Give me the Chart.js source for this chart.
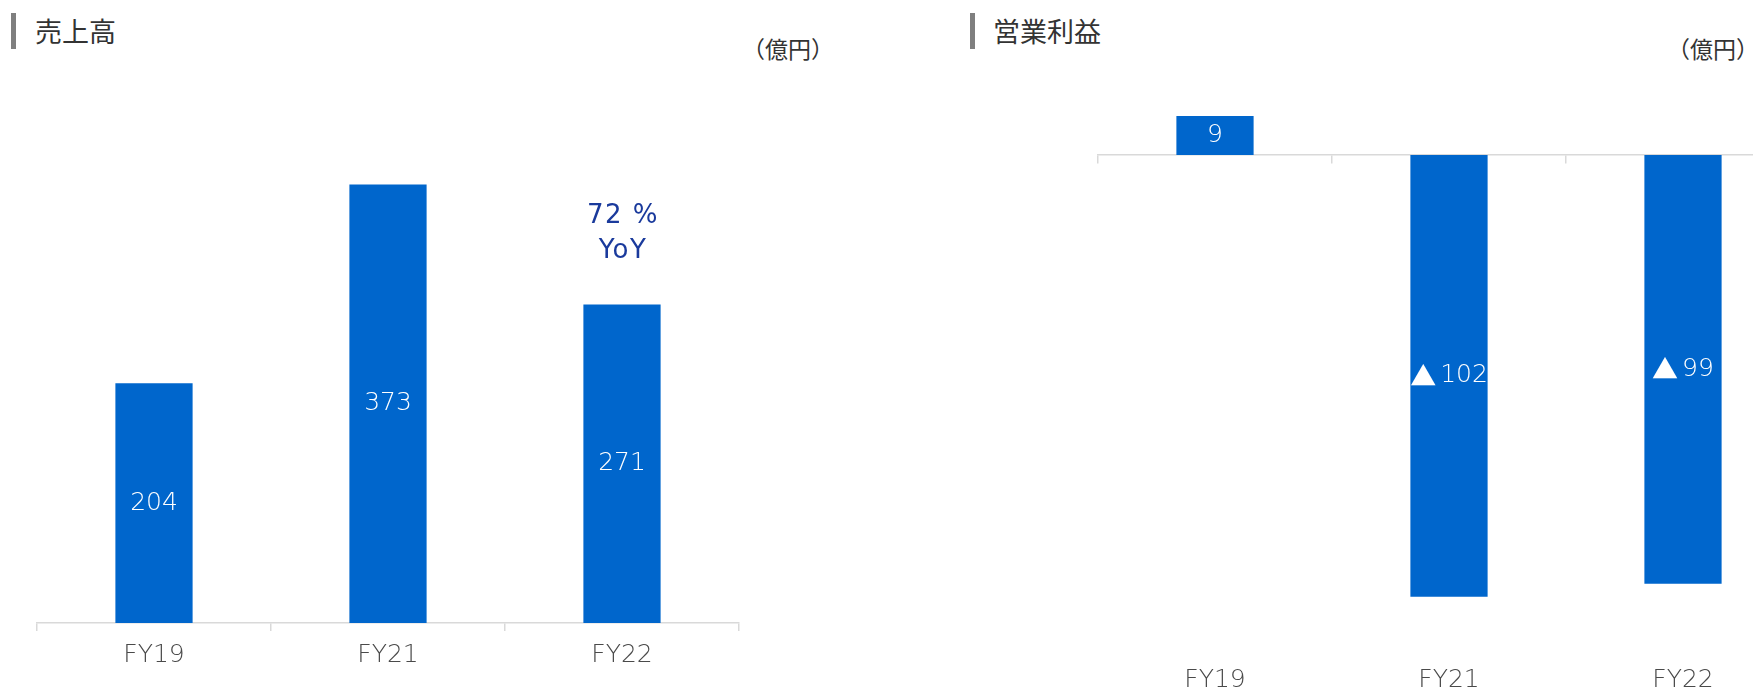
<!DOCTYPE html>
<html><head><meta charset="utf-8">
<script src="https://cdn.jsdelivr.net/npm/chart.js@4.4.0/dist/chart.umd.min.js"></script>
<style>
html,body{margin:0;padding:0;width:1753px;height:692px;overflow:hidden;background:#fff;font-family:"Noto Sans CJK JP","Noto Sans",sans-serif;}
.mark{position:absolute;background:#7f7f7f;width:5px;height:36px;top:13px;}
.title{position:absolute;top:12px;font-size:27px;line-height:38px;color:#333;}
.unit{position:absolute;top:34px;font-size:23px;line-height:28px;color:#333;white-space:nowrap;}
canvas{position:absolute;top:0;}
</style></head><body>
<div class="mark" style="left:11px"></div><div class="title" id="t1" style="left:35px"></div>
<div class="unit" id="u1" style="left:742px"></div>
<div class="mark" style="left:970px"></div><div class="title" id="t2" style="left:993px"></div>
<div class="unit" id="u2" style="left:1667px"></div>
<canvas id="c1" width="760" height="692" style="left:0"></canvas>
<canvas id="c2" width="760" height="692" style="left:1060px"></canvas>
<script>
const categories = ['FY19', 'FY21', 'FY22'];
const salesValues = [204, 373, 271];
const profitValues = [9, -102, -99];
const salesTitle = '売上高';
const profitTitle = '営業利益';
const unitLabel = '（億円）';
const negativeMark = '▲';
const yoyLines = ['72 %', 'YoY'];
const yoyIndex = 2;

document.getElementById('t1').textContent = salesTitle;
document.getElementById('t2').textContent = profitTitle;
document.getElementById('u1').textContent = unitLabel;
document.getElementById('u2').textContent = unitLabel;

const LATIN = '"DejaVu Sans", "Noto Sans", sans-serif';
const CJK = '"Noto Sans CJK JP", sans-serif';
Chart.defaults.font.family = LATIN;
const BLUE = '#0066cc';
const AXIS = '#d9d9d9';

const valueLabels = {
  id: 'valueLabels',
  afterDatasetsDraw(chart, args, opts) {
    const ctx = chart.ctx;
    const meta = chart.getDatasetMeta(0);
    const data = chart.data.datasets[0].data;
    const gap = 4;
    ctx.save();
    ctx.fillStyle = opts.color;
    ctx.textBaseline = 'middle';
    ctx.textAlign = 'left';
    meta.data.forEach((bar, i) => {
      const v = data[i];
      const num = String(Math.abs(v));
      const y = (bar.y + bar.base) / 2;
      ctx.font = opts.font;
      const wNum = ctx.measureText(num).width;
      let wMark = 0;
      if (v < 0) { ctx.font = opts.markFont; wMark = ctx.measureText(negativeMark).width + gap; }
      let x = bar.x - (wNum + wMark) / 2;
      if (v < 0) { ctx.font = opts.markFont; ctx.fillText(negativeMark, x, y); x += wMark; }
      ctx.font = opts.font;
      ctx.fillText(num, x, y);
    });
    ctx.restore();
  }
};

const yoyNote = {
  id: 'yoyNote',
  afterDatasetsDraw(chart, args, opts) {
    if (!opts || !opts.lines) return;
    const ctx = chart.ctx;
    const bar = chart.getDatasetMeta(0).data[opts.index];
    ctx.save();
    ctx.font = opts.font;
    ctx.fillStyle = opts.color;
    ctx.textAlign = 'center';
    ctx.textBaseline = 'middle';
    if ('letterSpacing' in ctx) ctx.letterSpacing = opts.spacing;
    opts.lines.forEach((t, k) => ctx.fillText(t, bar.x + 1, bar.y - opts.offsets[k]));
    ctx.restore();
  }
};

new Chart(document.getElementById('c1'), {
  type: 'bar',
  data: { labels: categories, datasets: [{ data: salesValues, backgroundColor: BLUE, categoryPercentage: 1, barPercentage: 0.33 }] },
  options: {
    responsive: false, animation: false, devicePixelRatio: 1,
    layout: { padding: { left: 37, right: 21, top: 94, bottom: 0 } },
    plugins: {
      legend: { display: false }, tooltip: { enabled: false },
      valueLabels: { font: '200 25px ' + LATIN, markFont: '400 26px ' + CJK, color: '#ffffff' },
      yoyNote: { lines: yoyLines, index: yoyIndex, offsets: [88, 53], font: '400 26px ' + LATIN, spacing: '1.5px', color: '#1a3a9c' }
    },
    scales: {
      x: {
        offset: true,
        grid: { display: true, offset: true, drawOnChartArea: false, drawTicks: true, tickLength: 8, color: AXIS, lineWidth: 1.5 },
        border: { display: true, color: AXIS, width: 1.5 },
        ticks: { color: '#4a4a4a', font: { size: 25, weight: 200 }, padding: 9 },
        afterFit(s) { s.height = 69; }
      },
      y: { display: false, min: 0, max: 450 }
    }
  },
  plugins: [valueLabels, yoyNote]
});

new Chart(document.getElementById('c2'), {
  type: 'bar',
  data: { labels: categories, datasets: [{ data: profitValues, backgroundColor: BLUE, categoryPercentage: 1, barPercentage: 0.33 }] },
  options: {
    responsive: false, animation: false, devicePixelRatio: 1,
    layout: { padding: { left: 38, right: 20, top: 90, bottom: 0 } },
    plugins: {
      legend: { display: false }, tooltip: { enabled: false },
      valueLabels: { font: '200 25px ' + LATIN, markFont: '400 26px ' + CJK, color: '#ffffff' },
      yoyNote: {}
    },
    scales: {
      x: {
        offset: true,
        grid: { display: false, drawTicks: false },
        border: { display: false },
        ticks: { color: '#4a4a4a', font: { size: 25, weight: 200 }, padding: 12 },
        afterFit(s) { s.height = 39; }
      },
      x2: {
        type: 'category', axis: 'x', position: { y: 0 }, offset: true,
        grid: { display: true, offset: true, drawOnChartArea: false, drawTicks: true, tickLength: 8, color: AXIS, lineWidth: 1.5 },
        border: { display: true, color: AXIS, width: 1.5 },
        ticks: { display: false },
        afterFit(s) { s.height = 0; }
      },
      y: { display: false, min: -115, max: 15 }
    }
  },
  plugins: [valueLabels, yoyNote]
});
</script>
</body></html>
